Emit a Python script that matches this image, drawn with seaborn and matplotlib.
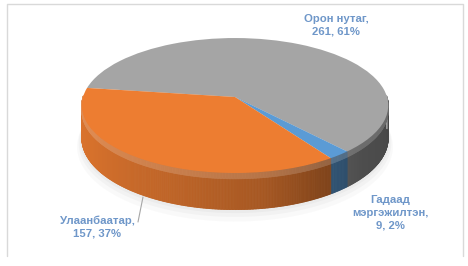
import numpy as np
import matplotlib
matplotlib.use("Agg")
import matplotlib.pyplot as plt
import matplotlib.transforms as mtransforms
from matplotlib.collections import PolyCollection
from matplotlib.colors import to_rgb
import seaborn as sns

# ---- data ----
categories = ["Орон нутаг", "Гадаад\nмэргэжилтэн", "Улаанбаатар"]
values = [261, 9, 157]
colors = ["#A5A5A5", "#5B9BD5", "#ED7D31"]

sns.set_theme(style="white")
plt.rcParams["font.family"] = ["Liberation Sans", "DejaVu Sans"]

fig = plt.figure(figsize=(4.68, 2.66), dpi=100)
ax = fig.add_axes([0, 0, 1, 1])

# perspective parameters (pixel space)
CX, CY, A, B, K, D = 235.0, 97.0, 152.0, 66.4, 0.126, 32.0


def project(u, v, h=0.0):
    u = np.asarray(u, float)
    v = np.asarray(v, float)
    s = 1.0 / (1.0 + K * v)
    return CX + A * u * s, CY - B * v * s + D * h * s


class Persp(mtransforms.Transform):
    input_dims = 2
    output_dims = 2
    is_separable = False
    has_inverse = False

    def transform_non_affine(self, values):
        values = np.asarray(values, float)
        x, y = project(values[..., 0], values[..., 1])
        return np.stack([x, y], axis=-1)


wedges, _ = ax.pie(values, colors=colors, startangle=172, counterclock=False,
                   radius=1, center=(0, 0), wedgeprops=dict(linewidth=0))

ax.set_xlim(0, 468)
ax.set_ylim(266, 0)
ax.set_aspect("auto")
ax.axis("off")

persp = Persp() + ax.transData
for w in wedges:
    w.set_transform(persp)
    w.set_zorder(4)


def shade(t):
    t = np.mod(t, 360)
    return np.interp(t, [180, 210, 250, 280, 300, 320, 360],
                     [0.93, 0.90, 0.80, 0.70, 0.56, 0.47, 0.42])


# soft shadow under the pie
tt = np.radians(np.linspace(0, 360, 200))
for sc, hh, al in [(1.03, 1.25, 0.04), (1.02, 1.15, 0.05), (1.01, 1.07, 0.06)]:
    x, y = project(sc * np.cos(tt), sc * np.sin(tt), hh)
    ax.fill(x, y, color="#7f7f7f", alpha=al, lw=0, zorder=1)

# side walls (front half)
polys, fcs = [], []
hl_polys, hl_fcs = [], []
for w, c in zip(wedges, colors):
    base = np.array(to_rgb(c))
    t1, t2 = min(w.theta1, w.theta2), max(w.theta1, w.theta2)
    ts = np.linspace(t1, t2, max(int((t2 - t1) * 2), 2))
    for a0, a1 in zip(ts[:-1], ts[1:]):
        mid = 0.5 * (a0 + a1)
        if np.sin(np.radians(mid)) > 0.02:
            continue
        r0, r1 = np.radians(a0), np.radians(a1)
        x0t, y0t = project(np.cos(r0), np.sin(r0), 0)
        x1t, y1t = project(np.cos(r1), np.sin(r1), 0)
        x0b, y0b = project(np.cos(r0), np.sin(r0), 1)
        x1b, y1b = project(np.cos(r1), np.sin(r1), 1)
        col = np.clip(base * shade(mid), 0, 1)
        polys.append([(x0t, y0t), (x1t, y1t), (x1b, y1b), (x0b, y0b)])
        fcs.append(col)
        x0h, y0h = project(np.cos(r0), np.sin(r0), 0.16)
        x1h, y1h = project(np.cos(r1), np.sin(r1), 0.16)
        hcol = np.clip(col + (1 - col) * 0.18, 0, 1)
        hl_polys.append([(x0t, y0t), (x1t, y1t), (x1h, y1h), (x0h, y0h)])
        hl_fcs.append(hcol)

ax.add_collection(PolyCollection(polys, facecolors=fcs, edgecolors=fcs,
                                 linewidths=0.6, zorder=2))
ax.add_collection(PolyCollection(hl_polys, facecolors=hl_fcs, edgecolors=hl_fcs,
                                 linewidths=0.5, zorder=3))

# labels
total = sum(values)
LBL = "#6F97C9"
label_pos = [(336, 25), (390, 213), (97, 227)]
for cat, val, (lx, ly) in zip(categories, values, label_pos):
    pct = int(round(val / total * 100))
    ax.text(lx, ly, f"{cat},\n{val}, {pct}%", ha="center", va="center",
            color=LBL, fontsize=8.2, fontweight="bold", linespacing=1.35, zorder=6)

# leader line for Улаанбаатар
ax.plot([138, 143], [222, 197], color="#a6a6a6", lw=0.8, zorder=5)

# chart border
ax.plot([7, 7, 463, 463], [256, 4, 4, 256], color="#d9d9d9", lw=1, zorder=0)

fig.savefig("out.png", dpi=100)
